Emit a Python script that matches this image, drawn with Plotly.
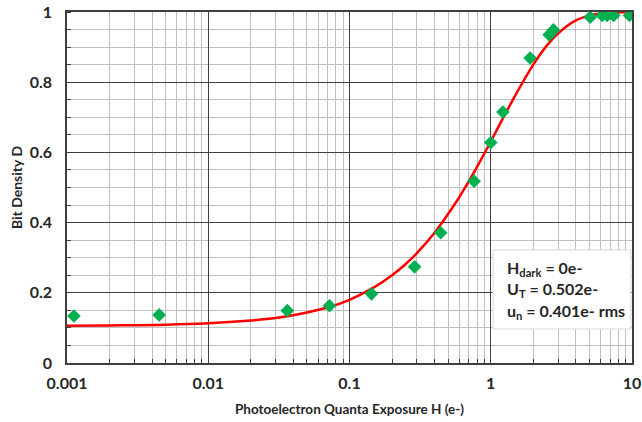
import plotly.graph_objects as go

meas_H = [0.00112, 0.00449, 0.0363, 0.0721, 0.143, 0.289, 0.442, 0.762, 1.0, 1.22,
          1.90, 2.59, 2.78, 5.06, 6.15, 6.68, 7.42, 9.6]
meas_D = [0.134, 0.137, 0.149, 0.163, 0.197, 0.274, 0.371, 0.518, 0.628, 0.715,
          0.869, 0.935, 0.949, 0.985, 0.990, 0.990, 0.990, 0.990]

# Model curve
curve_H = [0.001, 0.002, 0.005, 0.01, 0.02, 0.03, 0.05, 0.07, 0.1, 0.15, 0.2, 0.25,
           0.3, 0.4, 0.5, 0.6, 0.7, 0.8, 1.0, 1.2, 1.5, 2.0, 2.5, 3.0, 4.0, 5.0,
           6.0, 7.0, 10.0]
curve_D = [0.106, 0.107, 0.109, 0.113, 0.121, 0.128, 0.144, 0.158, 0.180, 0.216,
           0.250, 0.282, 0.313, 0.371, 0.425, 0.473, 0.518, 0.559, 0.631, 0.692,
           0.764, 0.850, 0.905, 0.939, 0.976, 0.990, 0.996, 0.998, 1.0]

x_tickvals = [0.001, 0.01, 0.1, 1, 10]
x_ticktext = ["0.001", "0.01", "0.1", "1", "10"]
y_tickvals = [0, 0.2, 0.4, 0.6, 0.8, 1.0]
y_ticktext = ["0", "0.2", "0.4", "0.6", "0.8", "1"]
x_minor = [m * 10.0 ** e for e in range(-3, 1) for m in range(2, 10)]

legend_lines = ["H<sub>dark</sub> = 0e-", "U<sub>T</sub> = 0.502e-", "u<sub>n</sub> = 0.401e- rms"]

FONT = "Lato"
MAJOR = "#3f3f3f"
MINOR = "#bfbfbf"
TXT = "#262626"

fig = go.Figure()
fig.add_trace(go.Scatter(x=curve_H, y=curve_D, mode="lines", line=dict(color="#ff0000", width=2.5, shape="spline"),
                         showlegend=False, hoverinfo="skip"))
fig.add_trace(go.Scatter(x=meas_H, y=meas_D, mode="markers",
                         marker=dict(symbol="diamond", color="#00b050", size=10.5, line=dict(width=0)),
                         showlegend=False))

fig.update_layout(
    width=642, height=422,
    margin=dict(l=67, r=10, t=12, b=59),
    paper_bgcolor="white", plot_bgcolor="white",
    font=dict(family=FONT, color=TXT),
    xaxis=dict(type="log", range=[-3, 1], tickmode="array", tickvals=x_tickvals, ticktext=x_ticktext,
               automargin=False,
               showgrid=True, gridcolor=MAJOR, gridwidth=1.3,
               minor=dict(tickmode="array", tickvals=x_minor, showgrid=True, gridcolor=MINOR, gridwidth=1.3,
                          ticks="inside", ticklen=4, tickcolor=MAJOR),
               showline=True, linecolor=MAJOR, linewidth=1.5, mirror=True,
               ticks="", ticklabelstandoff=5,
               tickfont=dict(size=16, family=FONT, weight="bold", color=TXT),
               title=dict(text="Photoelectron Quanta Exposure H (e-)", standoff=14,
                          font=dict(size=13.5, family=FONT, weight="bold", color=TXT)),
               zeroline=False),
    yaxis=dict(range=[0, 1], tickmode="array", tickvals=y_tickvals, ticktext=y_ticktext,
               automargin=False,
               showgrid=True, gridcolor=MAJOR, gridwidth=1.3,
               minor=dict(tickmode="linear", tick0=0, dtick=0.05, showgrid=True, gridcolor=MINOR, gridwidth=1.3,
                          ticks="inside", ticklen=4, tickcolor=MAJOR),
               showline=True, linecolor=MAJOR, linewidth=1.5, mirror=True,
               ticks="", ticklabelstandoff=10,
               tickfont=dict(size=16, family=FONT, weight="bold", color=TXT),
               title=dict(text="Bit Density D", standoff=4,
                          font=dict(size=14, family=FONT, weight="bold", color=TXT)),
               zeroline=False),
)

fig.add_shape(type="rect", xref="x domain", yref="y domain", x0=0.754, x1=0.998, y0=0.097, y1=0.322,
              fillcolor="white", line=dict(color="#d9d9d9", width=1), layer="above")

ys = [0.270, 0.208, 0.146]
for txt, yy in zip(legend_lines, ys):
    fig.add_annotation(xref="x domain", yref="y domain", x=0.775, y=yy, text=txt, showarrow=False,
                       xanchor="left", yanchor="middle", align="left",
                       font=dict(size=16, family=FONT, weight="bold", color=TXT))

fig.write_html("out.html", config={"displayModeBar": False},
               post_script="document.body.style.margin='0';")
